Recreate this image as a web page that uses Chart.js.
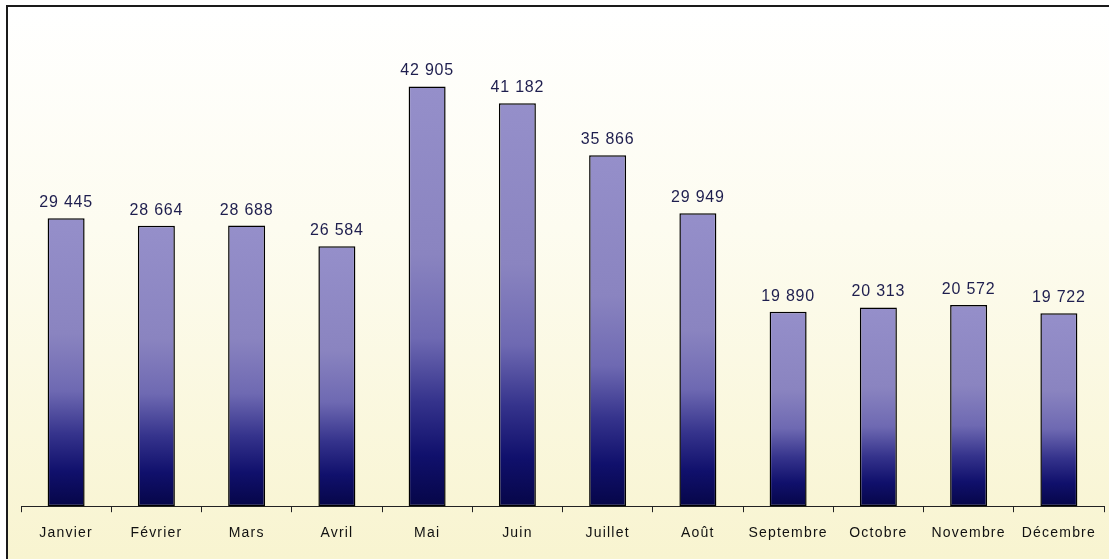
<!DOCTYPE html>
<html lang="fr">
<head>
    <meta charset="UTF-8">
    <title>Visiteurs par mois</title>
    <script src="https://cdn.jsdelivr.net/npm/chart.js"></script>
    <style>
        body {
            margin: 0;
            padding: 0;
            background: #fff;
            width: 1109px;
            height: 559px;
            overflow: hidden;
            font-family: "Liberation Sans", Arial, sans-serif;
        }
        .frame {
            position: absolute;
            left: 6px;
            top: 5px;
            width: 1101px;
            height: 552px;
            border-left: 2px solid #1a1a1a;
            border-top: 2px solid #1a1a1a;
            background: linear-gradient(to bottom, #ffffff 0%, #fdfcf0 40%, #f8f4d0 100%);
        }
        canvas {
            display: block;
        }
    </style>
</head>
<body>
    <div class="frame">
        <canvas id="chart" width="1101" height="552"></canvas>
    </div>

    <script>
        const months = ["Janvier", "Février", "Mars", "Avril", "Mai", "Juin", "Juillet", "Août", "Septembre", "Octobre", "Novembre", "Décembre"];
        const visits = [29445, 28664, 28688, 26584, 42905, 41182, 35866, 29949, 19890, 20313, 20572, 19722];

        // nombre avec espace comme séparateur des milliers
        function fmt(n) {
            return String(n).replace(/\B(?=(\d{3})+(?!\d))/g, " ");
        }

        function barGradient(context) {
            const chart = context.chart;
            if (!chart.chartArea || context.raw === undefined) return "#8a84c0";
            const yScale = chart.scales.y;
            const top = yScale.getPixelForValue(context.raw);
            const base = yScale.getPixelForValue(0);
            const g = chart.ctx.createLinearGradient(0, top, 0, base);
            g.addColorStop(0, "#958fca");
            g.addColorStop(0.4, "#8a84c0");
            g.addColorStop(0.6, "#6e69b2");
            g.addColorStop(0.75, "#35338c");
            g.addColorStop(0.88, "#10106c");
            g.addColorStop(1, "#060648");
            return g;
        }

        // espacement des lettres un peu plus large, comme l'original
        const spacing = {
            id: "spacing",
            beforeDraw(chart) {
                chart.ctx.letterSpacing = "1.2px";
            }
        };

        const valueLabels = {
            id: "valueLabels",
            afterDatasetsDraw(chart) {
                const ctx = chart.ctx;
                const meta = chart.getDatasetMeta(0);
                ctx.save();
                ctx.letterSpacing = "0.8px";
                ctx.font = "16px 'Liberation Sans', Arial, sans-serif";
                ctx.fillStyle = "#1e1e4e";
                ctx.textAlign = "center";
                ctx.textBaseline = "alphabetic";
                meta.data.forEach((bar, i) => {
                    ctx.fillText(fmt(visits[i]), bar.x, bar.y - 11);
                });
                ctx.restore();
            }
        };

        new Chart(document.getElementById("chart").getContext("2d"), {
            type: "bar",
            data: {
                labels: months,
                datasets: [{
                    data: visits,
                    backgroundColor: barGradient,
                    borderColor: "#000",
                    borderWidth: 1.5,
                    borderSkipped: false,
                    categoryPercentage: 1,
                    barPercentage: 0.41
                }]
            },
            options: {
                responsive: false,
                animation: false,
                layout: {
                    padding: { left: 13, right: 5, top: 59, bottom: 4 }
                },
                plugins: {
                    legend: { display: false },
                    tooltip: { enabled: false }
                },
                scales: {
                    y: {
                        display: false,
                        min: 0,
                        max: 45000
                    },
                    x: {
                        offset: true,
                        grid: {
                            display: true,
                            offset: true,
                            drawOnChartArea: false,
                            drawTicks: true,
                            tickLength: 6,
                            color: "#222"
                        },
                        border: { display: true, color: "#222", width: 1 },
                        ticks: {
                            color: "#111",
                            padding: 13,
                            maxRotation: 0,
                            autoSkip: false,
                            font: { family: "'Liberation Sans', Arial, sans-serif", size: 14 }
                        }
                    }
                }
            },
            plugins: [spacing, valueLabels]
        });
    </script>
</body>
</html>
